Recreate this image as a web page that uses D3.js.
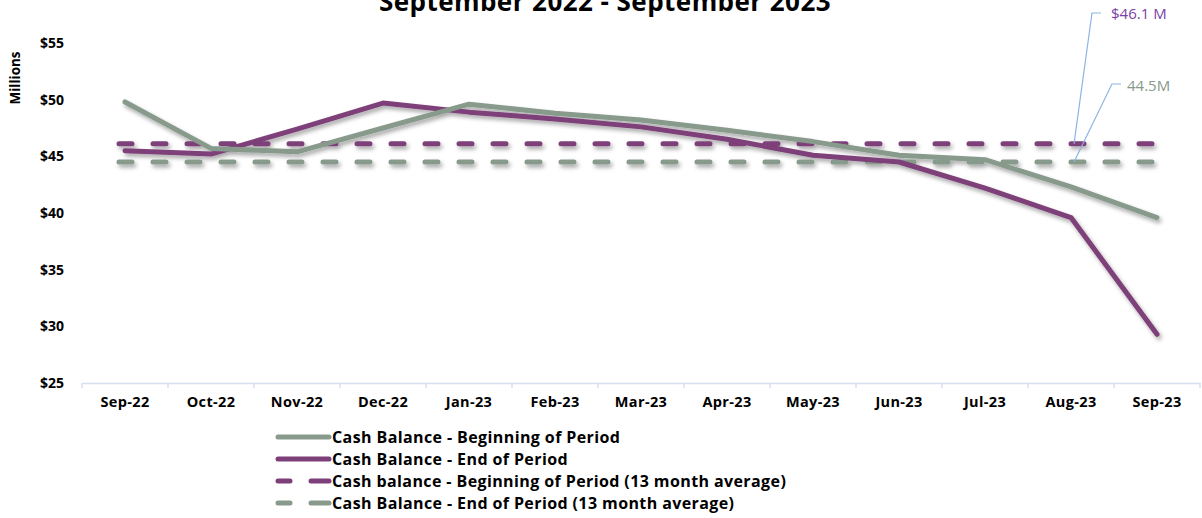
<!DOCTYPE html>
<html>
<head>
<meta charset="utf-8">
<script src="https://cdn.jsdelivr.net/npm/d3@7/dist/d3.min.js"></script>
<style>
  html, body { margin: 0; padding: 0; background: #fff; }
  svg { display: block; }
  text { font-family: "Open Sans", Lato, sans-serif; }
</style>
</head>
<body>
<svg id="chart" width="1202" height="518"></svg>
<script>
const months = ["Sep-22","Oct-22","Nov-22","Dec-22","Jan-23","Feb-23","Mar-23","Apr-23","May-23","Jun-23","Jul-23","Aug-23","Sep-23"];
const beginning = [49.8, 45.7, 45.4, 47.5, 49.6, 48.8, 48.2, 47.3, 46.3, 45.1, 44.7, 42.3, 39.6];
const ending    = [45.5, 45.2, 47.4, 49.7, 48.9, 48.3, 47.6, 46.5, 45.1, 44.5, 42.2, 39.6, 29.3];
const avgBeginning = 46.1;
const avgEnding = 44.5;
const yTicks = [25, 30, 35, 40, 45, 50, 55];
const legendLabels = [
  "Cash Balance - Beginning of Period",
  "Cash Balance - End of Period",
  "Cash balance - Beginning of Period (13 month average)",
  "Cash Balance - End of Period (13 month average)"
];
const titleText = "September 2022 - September 2023";
const annotBeg = "$46.1 M";
const annotEnd = "44.5M";

const GRAY = "#879a8b";
const PURPLE = "#7d3f79";
const VIOLET = "#7b3fa8";
const LEADER = "#8db4e2";
const FONT = "'Open Sans', Lato, sans-serif";

const svg = d3.select("#chart");
const defs = svg.append("defs");
const f = defs.append("filter").attr("id","shadow").attr("x","-10%").attr("y","-10%").attr("width","130%").attr("height","150%");
f.append("feDropShadow").attr("dx",2).attr("dy",3).attr("stdDeviation",2).attr("flood-color","#000").attr("flood-opacity",0.35);

const x = d3.scaleBand().domain(months).range([82, 1200]);
const y = d3.scaleLinear().domain([25, 55]).range([383, 43]);
const cx = m => x(m) + x.bandwidth()/2;

// title
svg.append("text").attr("x", 605).attr("y", 11).attr("text-anchor","middle")
  .attr("font-size", 26).attr("font-weight", "bold").attr("letter-spacing", 0.45)
  .attr("fill","#000").text(titleText);

// y axis label
svg.append("text").attr("transform","translate(20,78) rotate(-90)").attr("text-anchor","middle")
  .attr("font-size", 13.5).attr("font-weight","bold").text("Millions");

// y ticks
const yAxis = d3.axisLeft(y).tickValues(yTicks).tickFormat(d => "$" + d).tickSize(0).tickPadding(0);
const gy = svg.append("g").attr("transform","translate(64,0)").call(yAxis);
gy.select(".domain").remove();
gy.selectAll("text").attr("font-size", 14).attr("font-weight","bold").attr("fill","#000")
  .attr("font-family", FONT);

// x axis
const xAxis = d3.axisBottom(x).tickSize(0).tickPadding(14);
const gx = svg.append("g").attr("transform","translate(0,383)").call(xAxis);
gx.select(".domain").attr("stroke","#d6dff0").attr("stroke-width",1.5);
gx.selectAll("text").attr("font-size", 14.5).attr("font-weight","bold").attr("fill","#000")
  .attr("letter-spacing", 0.35).attr("font-family", FONT);
// boundary tick marks
const bounds = months.map(m => x(m)).concat([x(months[months.length-1]) + x.bandwidth()]);
gx.selectAll("line.bt").data(bounds).enter().append("line").attr("class","bt")
  .attr("x1", d => d).attr("x2", d => d).attr("y1", 0).attr("y2", 5)
  .attr("stroke","#d6dff0").attr("stroke-width",1.5);

const line = d3.line().x((d,i) => cx(months[i])).y(d => y(d));

const plot = svg.append("g").attr("filter","url(#shadow)");
// dashed averages
const x0 = cx(months[0]) - 6, x1 = cx(months[months.length-1]) + 6;
plot.append("line").attr("x1", x0).attr("x2", x1).attr("y1", y(avgEnding)).attr("y2", y(avgEnding))
  .attr("stroke", GRAY).attr("stroke-width", 5).attr("stroke-linecap","round").attr("stroke-dasharray","13 21");
plot.append("line").attr("x1", x0).attr("x2", x1).attr("y1", y(avgBeginning)).attr("y2", y(avgBeginning))
  .attr("stroke", PURPLE).attr("stroke-width", 5).attr("stroke-linecap","round").attr("stroke-dasharray","13 21");
// series lines
plot.append("path").datum(ending).attr("d", line).attr("fill","none").attr("stroke", PURPLE)
  .attr("stroke-width", 5).attr("stroke-linejoin","round").attr("stroke-linecap","round");
plot.append("path").datum(beginning).attr("d", line).attr("fill","none").attr("stroke", GRAY)
  .attr("stroke-width", 5).attr("stroke-linejoin","round").attr("stroke-linecap","round");

// annotations
const ax = 1074;
svg.append("polyline").attr("points", `${ax},${y(avgBeginning)} 1092,13 1101,13`)
  .attr("fill","none").attr("stroke", LEADER).attr("stroke-width",1.2);
svg.append("polyline").attr("points", `${ax},${y(avgEnding)} 1112,84 1121,84`)
  .attr("fill","none").attr("stroke", LEADER).attr("stroke-width",1.2);
svg.append("text").attr("x", 1111).attr("y", 19).attr("font-size", 15).attr("font-family","Lato, sans-serif")
  .attr("fill", VIOLET).text(annotBeg);
svg.append("text").attr("x", 1127).attr("y", 91).attr("font-size", 15).attr("font-family","Lato, sans-serif")
  .attr("fill", GRAY).text(annotEnd);

// legend
const legY = [437, 459, 481, 503];
const legStyles = [
  {c: GRAY, dash: null}, {c: PURPLE, dash: null}, {c: PURPLE, dash: true}, {c: GRAY, dash: true}
];
const lg = svg.append("g");
legendLabels.forEach((lab, i) => {
  const yy = legY[i];
  const s = legStyles[i];
  if (s.dash) {
    lg.append("line").attr("x1", 278).attr("x2", 290).attr("y1", yy).attr("y2", yy)
      .attr("stroke", s.c).attr("stroke-width", 5).attr("stroke-linecap","round");
    lg.append("line").attr("x1", 311).attr("x2", 329).attr("y1", yy).attr("y2", yy)
      .attr("stroke", s.c).attr("stroke-width", 5).attr("stroke-linecap","round");
  } else {
    lg.append("line").attr("x1", 278).attr("x2", 329).attr("y1", yy).attr("y2", yy)
      .attr("stroke", s.c).attr("stroke-width", 5).attr("stroke-linecap","round");
  }
  lg.append("text").attr("x", 332).attr("y", yy + 6).attr("font-size", 16).attr("font-weight","bold")
    .attr("letter-spacing", 0.4).attr("fill","#000").text(lab);
});
</script>
</body>
</html>
